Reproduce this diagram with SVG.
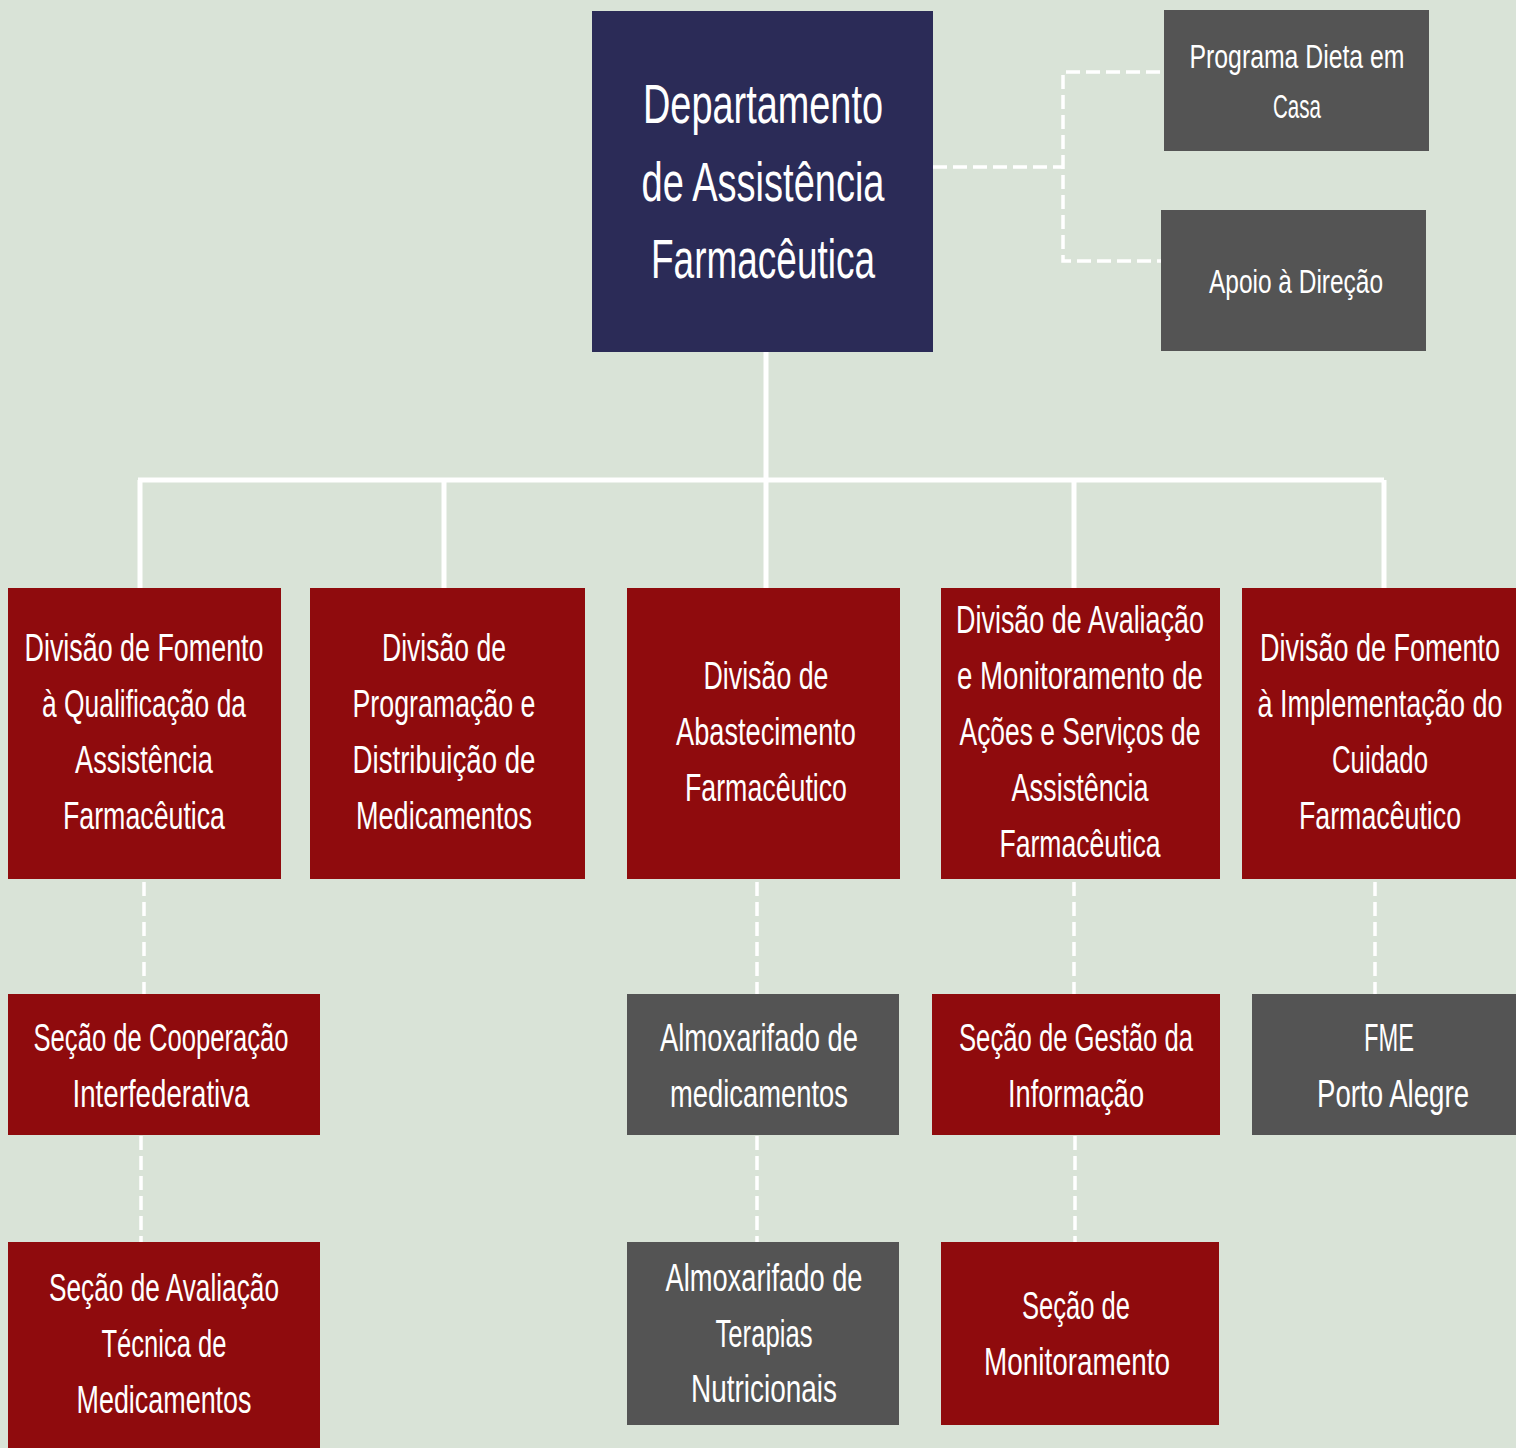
<svg xmlns="http://www.w3.org/2000/svg" width="1516" height="1448" viewBox="0 0 1516 1448">
<style>
.bg{fill:#d9e3d7}
.blue{fill:#2b2b57}
.red{fill:#8f0b0d}
.gray{fill:#545454}
text{font-family:"Liberation Sans",Arial,sans-serif;fill:#ffffff;text-anchor:middle}
.t38{font-size:38px}
.t34{font-size:34px}
.t56{font-size:56px}
.solid{fill:none;stroke:#ffffff;stroke-width:5;stroke-linecap:butt}
.dash{fill:none;stroke:#ffffff;stroke-width:3.5;stroke-dasharray:14 6}
</style>
<rect class="bg" x="0" y="0" width="1516" height="1448"/>

<g id="connectors">
  <path class="solid" d="M766,352 V588"/>
  <path class="solid" d="M138,480 H1384" stroke-linecap="round"/>
  <path class="solid" d="M140,480 V588 M444,480 V588 M1074,480 V588 M1384,480 V588"/>
  <path class="dash" d="M933,167 H1063"/>
  <path class="dash" d="M1160,72 H1063 V261 H1161"/>
  <path class="dash" d="M144,882 V994"/>
  <path class="dash" d="M141,1136 V1242"/>
  <path class="dash" d="M757,882 V994"/>
  <path class="dash" d="M757,1136 V1242"/>
  <path class="dash" d="M1074,882 V994"/>
  <path class="dash" d="M1075,1136 V1242"/>
  <path class="dash" d="M1375,882 V994"/>
</g>

<g id="dept">
  <rect class="blue" x="592" y="11" width="341" height="341"/>
  <text class="t56" x="763" y="123" textLength="240" lengthAdjust="spacingAndGlyphs">Departamento</text>
  <text class="t56" x="763" y="201" textLength="243" lengthAdjust="spacingAndGlyphs">de Assistência</text>
  <text class="t56" x="763" y="278" textLength="224" lengthAdjust="spacingAndGlyphs">Farmacêutica</text>
</g>

<g id="dieta">
  <rect class="gray" x="1164" y="10" width="265" height="141"/>
  <text class="t34" x="1297" y="68" textLength="215" lengthAdjust="spacingAndGlyphs">Programa Dieta em</text>
  <text class="t34" x="1297" y="118" textLength="48" lengthAdjust="spacingAndGlyphs">Casa</text>
</g>

<g id="apoio">
  <rect class="gray" x="1161" y="210" width="265" height="141"/>
  <text class="t34" x="1296" y="293" textLength="174" lengthAdjust="spacingAndGlyphs">Apoio à Direção</text>
</g>

<g id="div-qualificacao">
  <rect class="red" x="8" y="588" width="273" height="291"/>
  <text class="t38" x="144" y="661" textLength="239" lengthAdjust="spacingAndGlyphs">Divisão de Fomento</text>
  <text class="t38" x="144" y="717" textLength="204" lengthAdjust="spacingAndGlyphs">à Qualificação da</text>
  <text class="t38" x="144" y="773" textLength="138" lengthAdjust="spacingAndGlyphs">Assistência</text>
  <text class="t38" x="144" y="829" textLength="162" lengthAdjust="spacingAndGlyphs">Farmacêutica</text>
</g>

<g id="div-programacao">
  <rect class="red" x="310" y="588" width="275" height="291"/>
  <text class="t38" x="444" y="661" textLength="124" lengthAdjust="spacingAndGlyphs">Divisão de</text>
  <text class="t38" x="444" y="717" textLength="183" lengthAdjust="spacingAndGlyphs">Programação e</text>
  <text class="t38" x="444" y="773" textLength="183" lengthAdjust="spacingAndGlyphs">Distribuição de</text>
  <text class="t38" x="444" y="829" textLength="176" lengthAdjust="spacingAndGlyphs">Medicamentos</text>
</g>

<g id="div-abastecimento">
  <rect class="red" x="627" y="588" width="273" height="291"/>
  <text class="t38" x="766" y="689" textLength="125" lengthAdjust="spacingAndGlyphs">Divisão de</text>
  <text class="t38" x="766" y="745" textLength="180" lengthAdjust="spacingAndGlyphs">Abastecimento</text>
  <text class="t38" x="766" y="801" textLength="162" lengthAdjust="spacingAndGlyphs">Farmacêutico</text>
</g>

<g id="div-avaliacao">
  <rect class="red" x="941" y="588" width="279" height="291"/>
  <text class="t38" x="1080" y="633" textLength="248" lengthAdjust="spacingAndGlyphs">Divisão de Avaliação</text>
  <text class="t38" x="1080" y="689" textLength="246" lengthAdjust="spacingAndGlyphs">e Monitoramento de</text>
  <text class="t38" x="1080" y="745" textLength="241" lengthAdjust="spacingAndGlyphs">Ações e Serviços de</text>
  <text class="t38" x="1080" y="801" textLength="137" lengthAdjust="spacingAndGlyphs">Assistência</text>
  <text class="t38" x="1080" y="857" textLength="161" lengthAdjust="spacingAndGlyphs">Farmacêutica</text>
</g>

<g id="div-implementacao">
  <rect class="red" x="1242" y="588" width="274" height="291"/>
  <g transform="translate(1380 0) scale(0.75 1)">
    <text class="t38" x="0" y="661" textLength="320" lengthAdjust="spacingAndGlyphs">Divisão de Fomento</text>
    <text class="t38" x="0" y="717" textLength="326.7" lengthAdjust="spacingAndGlyphs">à Implementação do</text>
    <text class="t38" x="0" y="773" textLength="128" lengthAdjust="spacingAndGlyphs">Cuidado</text>
    <text class="t38" x="0" y="829" textLength="216" lengthAdjust="spacingAndGlyphs">Farmacêutico</text>
  </g>
</g>

<g id="sec-cooperacao">
  <rect class="red" x="8" y="994" width="312" height="141"/>
  <text class="t38" x="161" y="1051" textLength="255" lengthAdjust="spacingAndGlyphs">Seção de Cooperação</text>
  <text class="t38" x="161" y="1107" textLength="177" lengthAdjust="spacingAndGlyphs">Interfederativa</text>
</g>

<g id="almox-medicamentos">
  <rect class="gray" x="627" y="994" width="272" height="141"/>
  <text class="t38" x="759" y="1051" textLength="198" lengthAdjust="spacingAndGlyphs">Almoxarifado de</text>
  <text class="t38" x="759" y="1107" textLength="178" lengthAdjust="spacingAndGlyphs">medicamentos</text>
</g>

<g id="sec-gestao">
  <rect class="red" x="932" y="994" width="288" height="141"/>
  <text class="t38" x="1076" y="1051" textLength="234" lengthAdjust="spacingAndGlyphs">Seção de Gestão da</text>
  <text class="t38" x="1076" y="1107" textLength="136" lengthAdjust="spacingAndGlyphs">Informação</text>
</g>

<g id="fme">
  <rect class="gray" x="1252" y="994" width="264" height="141"/>
  <g transform="translate(1391 0) scale(0.75 1)">
    <text class="t38" x="-2.7" y="1051" textLength="66.7" lengthAdjust="spacingAndGlyphs">FME</text>
    <text class="t38" x="2.7" y="1107" textLength="202.7" lengthAdjust="spacingAndGlyphs">Porto Alegre</text>
  </g>
</g>

<g id="sec-avaliacao-tecnica">
  <rect class="red" x="8" y="1242" width="312" height="206"/>
  <text class="t38" x="164" y="1301" textLength="230" lengthAdjust="spacingAndGlyphs">Seção de Avaliação</text>
  <text class="t38" x="164" y="1357" textLength="125" lengthAdjust="spacingAndGlyphs">Técnica de</text>
  <text class="t38" x="164" y="1413" textLength="175" lengthAdjust="spacingAndGlyphs">Medicamentos</text>
</g>

<g id="almox-terapias">
  <rect class="gray" x="627" y="1242" width="272" height="183"/>
  <text class="t38" x="764" y="1291" textLength="197" lengthAdjust="spacingAndGlyphs">Almoxarifado de</text>
  <text class="t38" x="764" y="1347" textLength="97" lengthAdjust="spacingAndGlyphs">Terapias</text>
  <text class="t38" x="764" y="1402" textLength="146" lengthAdjust="spacingAndGlyphs">Nutricionais</text>
</g>

<g id="sec-monitoramento">
  <rect class="red" x="941" y="1242" width="278" height="183"/>
  <text class="t38" x="1076" y="1319" textLength="108" lengthAdjust="spacingAndGlyphs">Seção de</text>
  <text class="t38" x="1077" y="1375" textLength="186" lengthAdjust="spacingAndGlyphs">Monitoramento</text>
</g>
</svg>
